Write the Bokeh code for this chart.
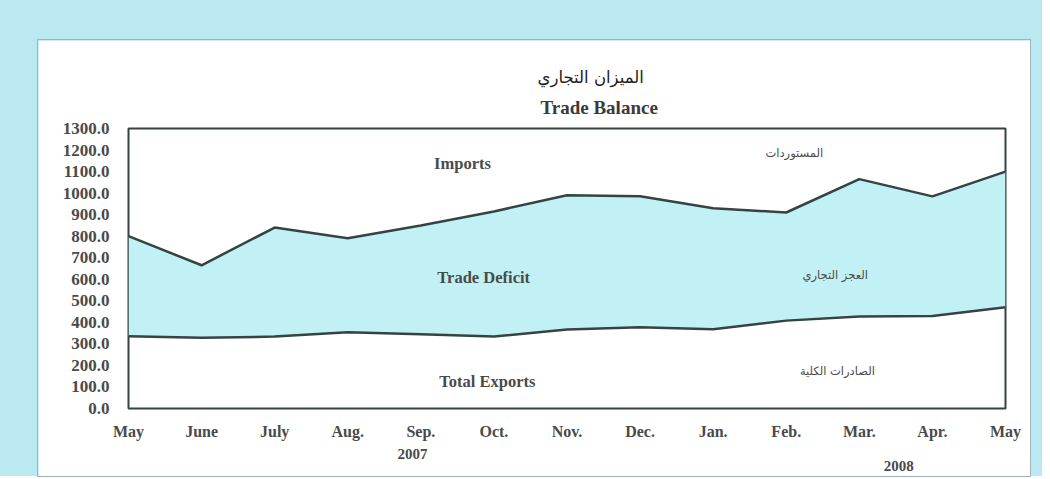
from bokeh.plotting import figure
from bokeh.models import Range1d, Label, Title, FixedTicker, Column, LinearAxis
from bokeh.embed import file_html
from bokeh.resources import INLINE

months = ["May", "June", "July", "Aug.", "Sep.", "Oct.", "Nov.", "Dec.", "Jan.", "Feb.", "Mar.", "Apr.", "May"]
imports = [800, 665, 840, 790, 850, 915, 990, 985, 930, 910, 1065, 985, 1100]
exports = [335, 328, 334, 354, 345, 334, 367, 377, 368, 408, 427, 430, 470]
y_ticks = list(range(0, 1301, 100))
years = ["2007", "2008"]

x = list(range(len(months)))
SERIF = "Liberation Serif"
ARABIC = "DejaVu Sans"
TXT = "#4a4a4a"
LINE = "#354343"

p = figure(frame_width=877, frame_height=280, output_backend="svg", toolbar_location=None,
           x_range=Range1d(0, len(months) - 1), y_range=Range1d(0, 1300),
           min_border_left=90, min_border_right=25, min_border_top=88, min_border_bottom=68,
           background_fill_color="white", border_fill_color="white",
           styles={"box-shadow": "0 0 0 1px #9fb4b8"})
p.title = None

t2 = Title(text="Trade Balance", align="left", text_font=SERIF, text_font_size="19px",
           text_font_style="bold", text_color="#3a3a3a", standoff=22, offset=412)
t1 = Title(text="الميزان التجاري", align="left", text_font=ARABIC, text_font_size="16.5px",
           text_font_style="normal", text_color="#222222", standoff=-7, offset=409)
p.add_layout(t2, "above")
p.add_layout(t1, "above")

p.varea(x=x, y1=exports, y2=imports, fill_color="#c2f1f5", fill_alpha=1.0)
p.line(x, imports, line_color=LINE, line_width=2.5)
p.line(x, exports, line_color=LINE, line_width=2.5)

p.xgrid.visible = False
p.ygrid.visible = False
p.outline_line_color = LINE
p.outline_line_width = 2

axis2007 = LinearAxis()
axis2008 = LinearAxis()
p.add_layout(axis2007, "below")
p.add_layout(axis2008, "below")

for ax in (p.xaxis[0], p.yaxis[0], axis2007, axis2008):
    ax.axis_line_color = None
    ax.major_tick_line_color = None
    ax.minor_tick_line_color = None
    ax.major_label_text_font = SERIF
    ax.major_label_text_font_size = "16px"
    ax.major_label_text_font_style = "bold"
    ax.major_label_text_color = TXT

p.xaxis[0].ticker = FixedTicker(ticks=x)
p.xaxis[0].major_label_overrides = {i: m for i, m in enumerate(months)}
p.xaxis[0].major_label_standoff = 8
p.yaxis.ticker = FixedTicker(ticks=y_ticks)
p.yaxis.major_label_overrides = {v: f"{v:.1f}" for v in y_ticks}
p.yaxis.major_label_standoff = 13
p.yaxis.major_label_text_font_size = "17px"

axis2007.ticker = FixedTicker(ticks=[3.886])
axis2007.major_label_overrides = {3.886: years[0]}
axis2007.major_label_text_font_size = "15px"
axis2007.major_label_standoff = 0

axis2008.ticker = FixedTicker(ticks=[10.54])
axis2008.major_label_overrides = {10.54: years[1]}
axis2008.major_label_text_font_size = "15px"
axis2008.major_label_standoff = -7

def lab(xv, yv, text, font, size, bold=False):
    p.add_layout(Label(x=xv, y=yv, text=text, text_font=font, text_font_size=size,
                       text_font_style="bold" if bold else "normal", text_color=TXT,
                       text_align="center", text_baseline="middle"))

lab(4.57, 1137, "Imports", SERIF, "16.5px", True)
lab(4.86, 608, "Trade Deficit", SERIF, "16.5px", True)
lab(4.91, 125, "Total Exports", SERIF, "16.5px", True)
lab(9.11, 1184, "المستوردات", ARABIC, "11.5px")
lab(9.67, 622, "العجز التجاري", ARABIC, "11.5px")
lab(9.70, 176, "الصادرات الكلية", ARABIC, "11.5px")

layout = Column(children=[p], styles={"background-color": "#bbe9f1", "padding": "40px 12px 0px 38px"})

open("out.html", "w").write(file_html(layout, INLINE))
